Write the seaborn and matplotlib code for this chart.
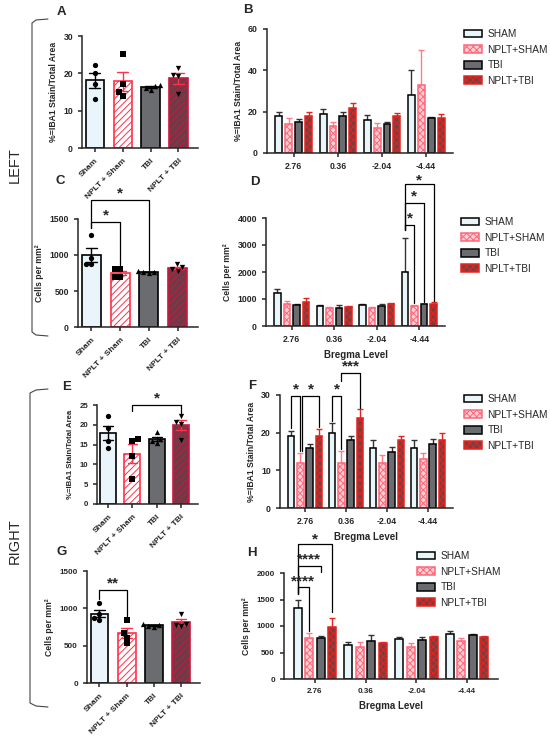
import numpy as np
import pandas as pd
import matplotlib
matplotlib.use("Agg")
import matplotlib.pyplot as plt
from matplotlib.patches import Patch
from matplotlib.lines import Line2D
import seaborn as sns

# categories
groups = ["Sham", "NPLT + Sham", "TBI", "NPLT + TBI"]
legend_names = ["SHAM", "NPLT+SHAM", "TBI", "NPLT+TBI"]
bregma = ["2.76", "0.36", "-2.04", "-4.44"]
markers = ["o", "s", "^", "v"]

# per-animal values, single panels (order: Sham, NPLT+Sham, TBI, NPLT+TBI)
A_points = [[22.2, 20.2, 17.1, 13.0], [25.1, 17.1, 15.1, 14.0],
            [16.9, 16.6, 16.2, 15.6], [21.3, 19.5, 19.3, 14.4]]
C_points = [[1280, 960, 880, 870], [810, 800, 700, 690],
            [775, 765, 760, 750], [870, 830, 800, 780]]
E_points = [[22.2, 19.3, 15.9, 14.1], [16.4, 15.9, 12.2, 6.2],
            [18.1, 16.4, 15.9, 15.4], [22.2, 20.8, 20.3, 16.2]]
G_points = [[1070, 920, 870, 850], [845, 670, 607, 536],
            [790, 775, 765, 755], [930, 790, 780, 760]]

# bregma panels: mean and SEM, rows = SHAM, NPLT+SHAM, TBI, NPLT+TBI
B_mean = [[18, 19, 16, 28], [14, 13, 12, 33], [15, 18, 14, 17], [18, 22, 18, 17]]
B_sem = [[2.0, 2.2, 2.3, 12.0], [2.7, 2.0, 2.6, 16.8], [1.3, 1.9, 1.1, 0.6], [2.0, 2.3, 1.2, 2.0]]
D_mean = [[1220, 740, 790, 2010], [830, 670, 680, 750], [780, 680, 750, 800], [890, 690, 800, 800]]
D_sem = [[160, 40, 37, 1260], [85, 50, 37, 30], [50, 85, 75, 25], [160, 50, 50, 85]]
F_mean = [[19, 20, 16, 16], [12, 12, 12, 13], [16, 18, 15, 17], [19, 24, 18, 18]]
F_sem = [[1.5, 2.6, 2.0, 2.0], [2.7, 3.1, 2.2, 1.6], [1.1, 1.2, 1.2, 1.2], [2.1, 2.2, 1.2, 2.0]]
H_mean = [[1335, 650, 760, 855], [775, 595, 595, 720], [770, 715, 745, 830], [980, 670, 790, 785]]
H_sem = [[165, 50, 37, 50], [100, 105, 88, 63], [45, 110, 50, 12], [175, 32, 20, 25]]

sns.set_style("ticks")
plt.rcParams["font.family"] = ["Liberation Sans", "DejaVu Sans"]
plt.rcParams["font.weight"] = "bold"
plt.rcParams["hatch.linewidth"] = 0.7
plt.rcParams["axes.linewidth"] = 1.1
plt.rcParams["xtick.major.width"] = 1.1
plt.rcParams["ytick.major.width"] = 1.1
plt.rcParams["xtick.major.size"] = 3
plt.rcParams["ytick.major.size"] = 3

single_style = [("#eaf4fb", "black", None), ("white", "#ff3049", "/////"),
                ("#6a6c70", "black", None), ("#6b3c48", "#d0163c", "/////")]
single_err = ["black", "#ff3049", "black", "#ff3049"]
group_style = [("#e8f6fa", "black", None), ("#ffd0d6", "#ff6679", "xxxxx"),
               ("#6a6c70", "black", None), ("#7a3d40", "#e8231e", "xxxxx")]
group_err = ["#333333", "#ff7a8a", "#333333", "#e8231e"]

W, H = 550, 736
fig = plt.figure(figsize=(5.5, 7.36), dpi=100)


def rect(l, t, r, b):
    return [l / W, 1 - b / H, (r - l) / W, (b - t) / H]


def bracket(ax, x1, x2, y, y1, y2, label, fs=11, off=1.6):
    ax.plot([x1, x1, x2, x2], [y1, y, y, y2], color="black", lw=0.9, clip_on=False)
    ax.annotate(label, ((x1 + x2) / 2, y), xytext=(0, off), textcoords="offset points",
                ha="center", va="baseline", fontsize=fs, fontweight="bold",
                annotation_clip=False)


def single_panel(ax, points, ymax, yticks, ylabel, fs=6.2):
    df = pd.DataFrame({"group": np.repeat(groups, [len(p) for p in points]),
                       "value": np.concatenate(points)})
    sns.barplot(data=df, x="group", y="value", order=groups, errorbar="se",
                capsize=0.4, width=0.66, err_kws={"linewidth": 1.0}, ax=ax)
    for patch, (fc, ec, hatch) in zip(ax.patches, single_style):
        patch.set_facecolor(fc)
        patch.set_edgecolor(ec)
        patch.set_hatch(hatch)
        patch.set_linewidth(1.2)
    for line in ax.lines:
        i = int(round(np.nanmean(line.get_xdata())))
        line.set_color(single_err[i])
    for g, m in zip(groups, markers):
        sns.swarmplot(data=df[df.group == g], x="group", y="value", order=groups,
                      marker=m, color="black", size=3.8, linewidth=0, zorder=3, ax=ax)
    ax.set_xlim(-0.46, 3.7)
    ax.set_ylim(0, ymax)
    ax.set_yticks(yticks)
    ax.set_xlabel("")
    ax.set_ylabel(ylabel, fontsize=6.2, fontweight="bold")
    ax.tick_params(labelsize=fs)
    plt.setp(ax.get_xticklabels(), rotation=45, ha="right", rotation_mode="anchor", fontsize=6)
    sns.despine(ax=ax)


def grouped_panel(ax, means, sems, ymax, yticks, ylabel, xlabel=None):
    df = pd.DataFrame({"bregma": np.tile(bregma, 4),
                       "group": np.repeat(legend_names, 4),
                       "mean": np.concatenate(means)})
    sns.barplot(data=df, x="bregma", y="mean", hue="group", order=bregma,
                hue_order=legend_names, errorbar=None, width=0.9, gap=0.3,
                legend=False, ax=ax)
    bar_sets = list(ax.containers)[:4]
    pos = []
    for j, cont in enumerate(bar_sets):
        fc, ec, hatch = group_style[j]
        xs = []
        for bar in cont:
            bar.set_facecolor(fc)
            bar.set_edgecolor(ec)
            bar.set_hatch(hatch)
            bar.set_linewidth(1.1)
            xs.append(bar.get_x() + bar.get_width() / 2)
        ax.errorbar(xs, means[j], yerr=[np.zeros(4), sems[j]], fmt="none",
                    ecolor=group_err[j], elinewidth=1.0, capsize=2.2, capthick=1.0, zorder=0.9)
        pos.append(xs)
    ax.set_ylim(0, ymax)
    ax.set_yticks(yticks)
    ax.set_xlabel(xlabel if xlabel else "", fontsize=7, fontweight="bold")
    ax.set_ylabel(ylabel, fontsize=6.2, fontweight="bold")
    ax.tick_params(labelsize=6.3)
    sns.despine(ax=ax)
    return pos


def add_legend(ax, x, y):
    handles = [Patch(facecolor=fc, edgecolor=ec, hatch=h, linewidth=1.1)
               for fc, ec, h in group_style]
    ax.legend(handles, legend_names, loc="upper left", bbox_to_anchor=(x / W, 1 - y / H),
              bbox_transform=fig.transFigure, frameon=False, borderpad=0, borderaxespad=0,
              handlelength=1.8, handleheight=0.8, handletextpad=0.5, labelspacing=0.55,
              prop={"size": 7.3, "weight": "normal"})


iba = "%=IBA1 Stain/Total Area"
cells = "Cells per mm²"

axA = fig.add_axes(rect(82, 36, 198, 148))
single_panel(axA, A_points, 30, [0, 10, 20, 30], iba)

axB = fig.add_axes(rect(267, 29, 453, 153))
grouped_panel(axB, B_mean, B_sem, 60, [0, 20, 40, 60], iba)
add_legend(axB, 464, 29)

axC = fig.add_axes(rect(78, 219, 198, 327))
single_panel(axC, C_points, 1500, [0, 500, 1000, 1500], cells)
bracket(axC, 0, 1, 1458, 1375, 840, "*")
bracket(axC, 0, 2, 1769, 1375, 790, "*")

axD = fig.add_axes(rect(266, 218, 445, 326))
p = grouped_panel(axD, D_mean, D_sem, 4000, [0, 1000, 2000, 3000, 4000], cells, "Bregma Level")
bracket(axD, p[0][3], p[1][3], 3740, 3540, 850, "*")
bracket(axD, p[0][3], p[2][3], 4555, 3540, 880, "*")
bracket(axD, p[0][3], p[3][3], 5250, 3540, 920, "*", off=0.2)
add_legend(axD, 461, 217)

axE = fig.add_axes(rect(97, 405, 198, 504))
single_panel(axE, E_points, 25, [0, 5, 10, 15, 20, 25], iba, fs=5.6)
axE.yaxis.label.set_size(5.6)
bracket(axE, 1, 3, 25, 23.6, 23.0, "*")

axF = fig.add_axes(rect(280, 395, 453, 508))
p = grouped_panel(axF, F_mean, F_sem, 30, [0, 10, 20, 30], iba, "Bregma Level")
bracket(axF, p[0][0], p[1][0], 29.8, 21.2, 15.2, "*")
bracket(axF, p[1][0] + 0.05, p[3][0], 29.8, 15.2, 21.5, "*")
bracket(axF, p[0][1], p[1][1], 29.8, 23.2, 15.6, "*")
bracket(axF, p[1][1], p[3][1], 35.8, 33.6, 26.6, "***")
add_legend(axF, 464, 394)

axG = fig.add_axes(rect(87, 571, 200, 683))
single_panel(axG, G_points, 1500, [0, 500, 1000, 1500], cells, fs=5.8)
bracket(axG, 0, 1, 1250, 1130, 860, "**")

axH = fig.add_axes(rect(284, 573, 498, 679))
p = grouped_panel(axH, H_mean, H_sem, 2000, [0, 500, 1000, 1500, 2000], cells, "Bregma Level")
axH.tick_params(labelsize=5.8)
bracket(axH, p[0][0], p[1][0], 1730, 1611, 900, "****")
bracket(axH, p[0][0], p[2][0], 2132, 1611, 2018, "****")
bracket(axH, p[0][0], p[3][0], 2539, 1611, 1266, "*", off=0.8)
add_legend(axH, 417, 551)

# panel letters
for letter, (x, y) in zip("ABCDEFGH", [(61, 12), (248, 10), (60, 181), (255, 182),
                                        (67, 387), (252, 386), (62, 552), (252, 553)]):
    fig.text(x / W, 1 - y / H, letter, fontsize=9.5, fontweight="bold", ha="center", va="center")

# side brackets and labels
for (top, bottom, xv) in [(19, 336, 32), (389, 707, 30)]:
    xs = [48, 36, xv, xv, 36, 48]
    ys = [top, top + 1, top + 4, bottom - 4, bottom - 1, bottom]
    fig.add_artist(Line2D([x / W for x in xs], [1 - y / H for y in ys],
                          color="#444444", lw=0.8))
fig.text(15 / W, 1 - 165 / H, "LEFT", rotation=90, fontsize=10.5, fontweight="normal",
         ha="center", va="center")
fig.text(15 / W, 1 - 541 / H, "RIGHT", rotation=90, fontsize=10.5, fontweight="normal",
         ha="center", va="center")

fig.savefig("out.png", dpi=100)
